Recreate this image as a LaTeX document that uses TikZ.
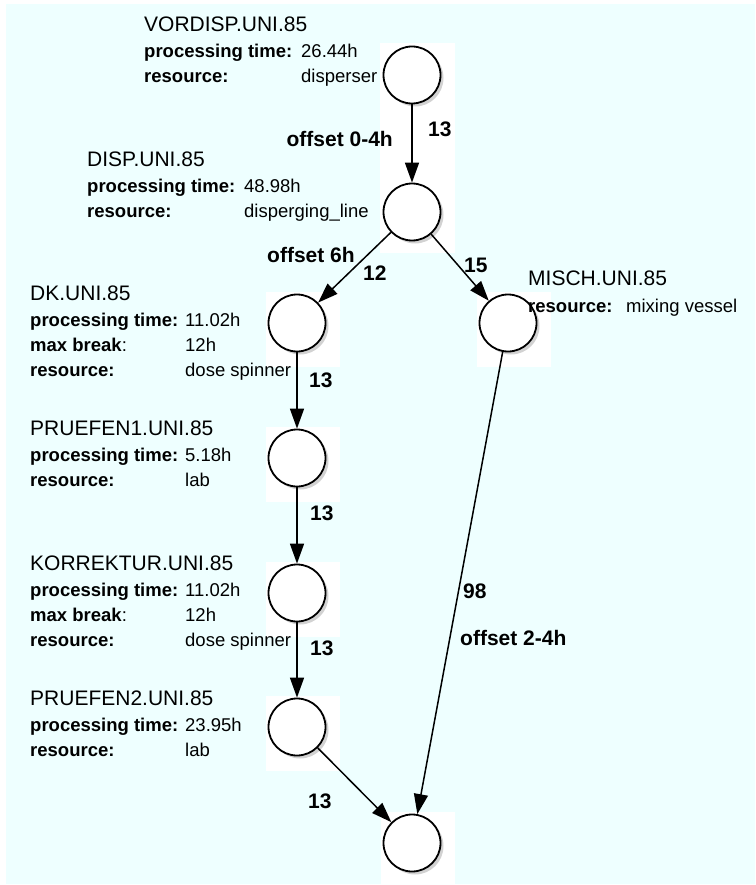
\documentclass[tikz,border=0pt]{standalone}
\usepackage{fontspec}
\setmainfont{Liberation Sans}
\usepackage{xcolor}
\usepackage{tikz}
\usetikzlibrary{arrows.meta, positioning, calc, backgrounds, shadows}
\definecolor{paneCyan}{RGB}{238,255,255}
\tikzstyle{task}  = [circle, draw, fill=white, line width=1.8pt, minimum size=57pt,
                     drop shadow={shadow xshift=3pt, shadow yshift=-3pt, opacity=0.35}]
\tikzstyle{flow}  = [-{Triangle[length=20pt, width=14pt]}, line width=1.5pt]
\newcommand{\ttl}{\fontsize{21}{25}\selectfont}

\begin{document}
\begin{tikzpicture}[
  x=1pt, y=-1pt,
  info/.style={anchor=base west, inner sep=0pt, font=\fontsize{18.5}{25}\selectfont},
  lbl/.style={anchor=base west, inner sep=0pt, font=\fontsize{21}{24}\selectfont\bfseries}
]
  \useasboundingbox (0,0) rectangle (755,885);

  % Work steps
  \node[task] (vordisp) at (412,75) {};
  \node[task] (disp) at (412,212) {};
  \node[task] (dk) at (297,323) {};
  \node[task] (misch) at (508,323) {};
  \node[task] (pruefen1) at (297,458) {};
  \node[task] (korrektur) at (297,593) {};
  \node[task] (pruefen2) at (297,727) {};
  \node[task] (sink) at (412,843) {};

  % Step details
  \node[info] (vordispinfo) at (144,32) {\begin{tabular}[t]{@{}p{157pt}@{}l@{}}
    \multicolumn{2}{@{}l@{}}{\ttl VORDISP.UNI.85}\\[1pt]
    \textbf{processing time:} & 26.44h\\
    \textbf{resource:} & disperser
  \end{tabular}};
  \node[info] (dispinfo) at (87,167) {\begin{tabular}[t]{@{}p{157pt}@{}l@{}}
    \multicolumn{2}{@{}l@{}}{\ttl DISP.UNI.85}\\[1pt]
    \textbf{processing time:} & 48.98h\\
    \textbf{resource:} & disperging\_line
  \end{tabular}};
  \node[info] (dkinfo) at (30,300) {\begin{tabular}[t]{@{}p{155pt}@{}l@{}}
    \multicolumn{2}{@{}l@{}}{\ttl DK.UNI.85}\\[1pt]
    \textbf{processing time:} & 11.02h\\
    \textbf{max break}: & 12h\\
    \textbf{resource:} & dose spinner
  \end{tabular}};
  \node[info] (mischinfo) at (528,285) {\begin{tabular}[t]{@{}p{98pt}@{}l@{}}
    \multicolumn{2}{@{}l@{}}{\ttl MISCH.UNI.85}\\[2pt]
    \textbf{resource:} & mixing vessel
  \end{tabular}};
  \node[info] (pruefen1info) at (30,435) {\begin{tabular}[t]{@{}p{155pt}@{}l@{}}
    \multicolumn{2}{@{}l@{}}{\ttl PRUEFEN1.UNI.85}\\[1pt]
    \textbf{processing time:} & 5.18h\\
    \textbf{resource:} & lab
  \end{tabular}};
  \node[info] (korrekturinfo) at (30,570) {\begin{tabular}[t]{@{}p{155pt}@{}l@{}}
    \multicolumn{2}{@{}l@{}}{\ttl KORREKTUR.UNI.85}\\[1pt]
    \textbf{processing time:} & 11.02h\\
    \textbf{max break}: & 12h\\
    \textbf{resource:} & dose spinner
  \end{tabular}};
  \node[info] (pruefen2info) at (30,705) {\begin{tabular}[t]{@{}p{155pt}@{}l@{}}
    \multicolumn{2}{@{}l@{}}{\ttl PRUEFEN2.UNI.85}\\[1pt]
    \textbf{processing time:} & 23.95h\\
    \textbf{resource:} & lab
  \end{tabular}};

  % Dependencies
  \draw[flow] (vordisp) -- (disp);
  \draw[flow] (disp) -- (dk);
  \draw[flow] (disp) -- (misch);
  \draw[flow] (dk) -- (pruefen1);
  \draw[flow] (pruefen1) -- (korrektur);
  \draw[flow] (korrektur) -- (pruefen2);
  \draw[flow] (pruefen2) -- (sink);
  \draw[flow] (misch) -- (sink);

  % Dependency labels
  \node[lbl] (dur1) at (428,137) {13};
  \node[lbl, anchor=base east] (off1) at (393,147) {offset 0-4h};
  \node[lbl] (off2) at (267,262) {offset 6h};
  \node[lbl] (dur2) at (363,280) {12};
  \node[lbl] (dur3) at (464,272) {15};
  \node[lbl] (dur4) at (309,387) {13};
  \node[lbl] (dur5) at (310,520) {13};
  \node[lbl] (dur6) at (310,655) {13};
  \node[lbl] (dur7) at (308,808) {13};
  \node[lbl] (dur8) at (463,598) {98};
  \node[lbl] (off3) at (460,645) {offset 2-4h};

  \begin{scope}[on background layer]
    \fill[paneCyan] (6,4) rectangle (755,884);
    \fill[white] ($(vordisp.center)+(-32,-32)$) rectangle ($(disp.center)+(43,41)$);
    \foreach \n in {dk, misch, pruefen1, korrektur, pruefen2, sink}
      \fill[white] ($(\n.center)+(-31,-31)$) rectangle ($(\n.center)+(43,44)$);
  \end{scope}

\end{tikzpicture}
\end{document}
